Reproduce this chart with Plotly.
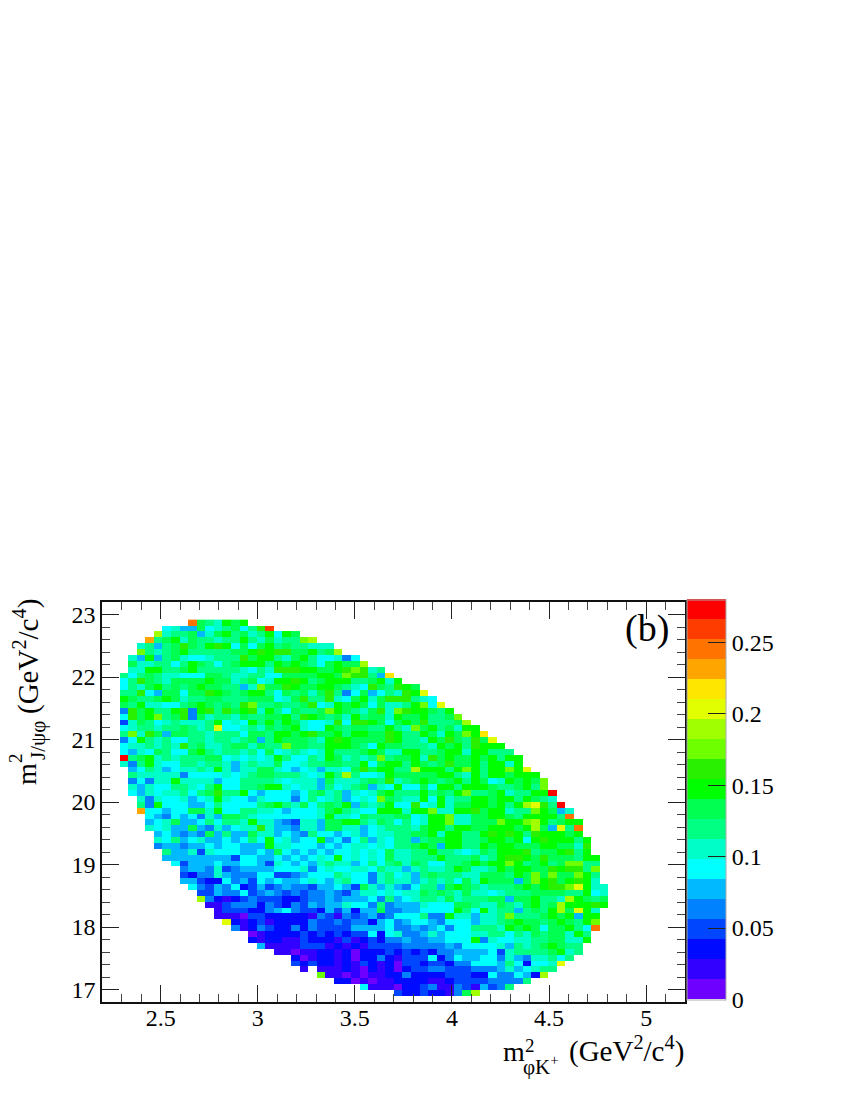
import plotly.graph_objects as go

# Colour-level read for each cell, top row first, columns grouped by ten.
# '.' = empty bin; 0-9,a-j = palette level.
cell_levels = [
 ".......... h987a9a...",
 ".......675 59678968bi",
 "......d788 9579a8978a 6a9.......",
 ".....g89a7 988788a879 788cd.....",
 "....78589b 98aba6969a 8988777...",
 "....c8789a 8888899aba bb99a89d..",
 "...75a5897 667888b9aa 879a866746",
 "...9778868 a98689aaa8 a9a9869a99 d.........",
 "...77aa889 a888887687 bbbaa99abc b78.......",
 "..86898776 6699877886 69999aa9cb b85f......",
 "..68b98799 99a9978967 aaba89aaa8 89a7a.....",
 "..6879a898 9a998857c9 9ba99aa987 6b98ba9...",
 "..88b65996 99ba989aa8 698979b846 95687bae..",
 "..a9889a97 8899888999 679b88b769 a79bbb876.",
 "..98a77668 9a9898bc88 9889b67a9a 969778ac6e",
 "..4b9a88ab 4ab8b9ab7a 869889ca98 79b7cbaa98 a.........",
 "..6b9ac89b 4978879889 9a8ba9897a 8997a99a88 9c........",
 "..37986787 778a676a8a 8a97667b6b ba969a9b88 89d.......",
 "..67887889 878e667879 89a766a989 988a87c9a8 97aa......",
 "..8c7b9599 8878886998 aa9ab99a8a a99ba88a97 a9caf.....",
 "..46a87866 8878878958 a99987aba9 999ba887a9 b98b9e....",
 "..6778787b 8977899798 8c9988aaa9 86a998887a 9a8baaa...",
 "..65769866 9a87887869 678767a888 9a977aa889 aa7aa888..",
 "..j89a7878 8899676767 a86687a978 78c899a7b9 a99a9a8aa.",
 "..748a7668 8788757877 9667889988 a69aa8a989 b99a8aa7a.",
 "...5687567 787a757799 7656757769 b9aa88daaa 8aca8aacae",
 "...8777774 6666767899 888767a8d8 667a99999a a87a8aa9aa a.........",
 "...46477a7 7775668888 7677759777 898b789a98 9a8a967a9a 9c........",
 "...7576688 768a66889a a767758678 9576a6696a a8aaa9889a 8c........",
 "...6576778 689b88a656 6656897857 679a888a89 8ac889a788 aaj.......",
 "....747667 567a766576 6646867856 76c9877a6a 788aa9aa8a 987.......",
 "....84a666 5568666689 a8796898a5 878a66b67a 799aa9a8ad eb8j......",
 "....g66566 997a668877 6566679a87 66aaa7aac7 7aab9aa788 ca957.....",
 ".....65465 6475998766 666667a776 98889967aa c7799aa98a aaa8h.....",
 ".....56795 5686887a77 54377599aa 87986867aa c77999caac da89aa....",
 ".....76755 95475677b7 5547759977 56788879aa 8aa99aaa9a d95e8h....",
 "......5654 5495855977 5654866567 56778899a7 aa88ababa8 baaa9a....",
 "......7685 675565686a 67566a5646 8576885899 aa889aa9a6 abaaa8a...",
 "......4554 556566555a 7766656567 7676889a95 aa88a9aa99 9aa997b...",
 ".......855 7376665565 9656565667 67697788a8 876798aaab 899ab8a...",
 ".......555 5555536655 6565676a67 676977888a 888978abba 9b9998aa..",
 "........63 5556556653 7656578775 6868979866 889a9aaca8 9a89cc88..",
 ".........4 5547345555 6667467667 7687757877 8a9778a9aa 99babb8c..",
 ".........3 2447544466 3345666876 6478675898 88779998a9 c9c99ca8..",
 ".........5 5322645365 6556765786 6478775787 8697a99959 cab9aba7..",
 ".......... 6435462353 4544355653 9757546885 9a9878889a 9abbcea77.",
 ".......... .335446345 4343445435 7767677989 8797767888 999988a67.",
 ".......... .d42123433 3223445455 5648567887 9788899599 a887da989.",
 ".......... ..11344424 3243545576 6484555766 6998779879 a89daaaba.",
 ".......... ...1333224 5643325352 5594455666 6a86a78858 98ad9ea7..",
 ".......... ...1110332 2222143143 4534666844 a775778c88 89a9a5aa..",
 ".......... ....e21231 2222433434 4256456654 66657789a9 989a98ac..",
 ".......... .....41243 2242433335 5556445456 4668887a9a 9699a86h..",
 ".......... .......012 2223232323 3626744575 6667788687 98997a8...",
 ".......... .......212 2113222131 2324454455 666a476677 889977a...",
 ".......... ........51 1113331212 1333344444 5466667587 89a988....",
 ".......... .......... 1101122120 2223232324 4555563788 889a78....",
 ".......... .......... ..20122120 2242133362 4655664754 77868.....",
 ".......... .......... ..32322121 3212033233 2446665862 667e......",
 ".......... .......... ...1.11121 0212023344 3334445756 788.......",
 ".......... .......... .....c1101 0112242222 3332264465 2d........",
 ".......... .......... .......220 1011222211 2333344448",
 ".......... .......... .......... 6111022341 14315348..",
 ".......... .......... .......... ....322322 149d......",
]

palette = [
 "#6e00ff", "#3200ff", "#000aff", "#0046ff", "#0082ff",
 "#00b9ff", "#00ffff", "#00ffc8", "#00ff82", "#00ff50",
 "#00ff00", "#28f000", "#6eff00", "#a0ff00", "#e1ff00",
 "#ffe600", "#ffa500", "#ff7300", "#ff3c00", "#ff0000",
]
level_chars = "0123456789abcdefghij"
z_max = 0.28
x_range = [2.2, 5.2]
y_range = [16.8, 23.2]
n_bins = 68
x_ticks = [2.5, 3, 3.5, 4, 4.5, 5]
y_ticks = [17, 18, 19, 20, 21, 22, 23]
z_ticks = [0, 0.05, 0.1, 0.15, 0.2, 0.25]

W, H = 850, 1100
L, R, T, B = 102.4, 685.0, 602.0, 1002.0
SERIF = "Liberation Serif"

step = z_max / len(palette)
z = []
for line in cell_levels:
    cells = line.replace(" ", "").ljust(n_bins, ".")
    z.append([None if c == "." else (level_chars.index(c) + 0.5) * step for c in cells])
z.reverse()          # first listed row is the top one
# lowest filled row sits one bin above the axis bottom
z = [[None] * n_bins] + z

colorscale = []
for i, c in enumerate(palette):
    colorscale += [[i / len(palette), c], [(i + 1) / len(palette), c]]

dx = (x_range[1] - x_range[0]) / n_bins
dy = (y_range[1] - y_range[0]) / n_bins

fig = go.Figure(go.Heatmap(
    z=z, x0=x_range[0] + dx / 2, dx=dx, y0=y_range[0] + dy / 2, dy=dy,
    zmin=0, zmax=z_max, colorscale=colorscale, hoverongaps=False,
    colorbar=dict(
        thickness=39.4, thicknessmode="pixels", len=400, lenmode="pixels",
        x=687.3 / W, xanchor="left", xpad=0, y=(H - 999.5) / H, yanchor="bottom", ypad=0,
        tickvals=z_ticks, ticktext=["0", "0.05", "0.1", "0.15", "0.2", "0.25"],
        ticks="inside", ticklen=18, tickcolor="#222", tickwidth=1,
        tickfont=dict(family=SERIF, size=24, color="black"),
        outlinecolor="#aaaaaa", outlinewidth=1, borderwidth=0,
    ),
))

axis_common = dict(
    showgrid=False, zeroline=False, showline=True, linecolor="#111", linewidth=2,
    mirror="allticks", ticks="inside", ticklen=17, tickwidth=1, tickcolor="#222",
    tickfont=dict(family=SERIF, size=24, color="black"),
)
fig.update_xaxes(
    range=x_range, domain=[L / W, R / W], tickvals=x_ticks,
    ticktext=["2.5", "3", "3.5", "4", "4.5", "5"],
    minor=dict(ticks="inside", dtick=0.1, ticklen=8, tickwidth=1, tickcolor="#444"),
    ticklabelstandoff=-7, **axis_common,
)
fig.update_yaxes(
    range=y_range, domain=[(H - B) / H, (H - T) / H], tickvals=y_ticks,
    minor=dict(ticks="inside", dtick=0.2, ticklen=8, tickwidth=1, tickcolor="#444"),
    ticklabelstandoff=0, **axis_common,
)


def label(text, px, py, size, angle=0, xanchor="center", yanchor="middle"):
    fig.add_annotation(
        text=text, x=px / W, y=(H - py) / H, xref="paper", yref="paper",
        showarrow=False, textangle=angle, xanchor=xanchor, yanchor=yanchor,
        font=dict(family=SERIF, size=size, color="black"),
    )


# panel tag
label("(b)", 647, 628, 38)
# x axis title
label("m", 514, 1051, 28)
label("2", 530, 1045, 19)
label("\u03c6K<sup>+</sup>", 541, 1065, 21)
label("(GeV<sup>2</sup>/c<sup>4</sup>)", 626, 1049, 29)
# y axis title
label("m", 26, 774, 28, -90)
label("2", 15, 758, 19, -90)
label("J/\u03c8\u03c6", 38, 741, 21, -90)
label("(GeV<sup>2</sup>/c<sup>4</sup>)", 26, 657, 29, -90)

fig.update_layout(
    width=W, height=H, margin=dict(l=0, r=0, t=0, b=0),
    paper_bgcolor="white", plot_bgcolor="white", showlegend=False,
)
fig.write_html("out.html", config=dict(displayModeBar=False),
               post_script="document.body.style.margin='0';")
